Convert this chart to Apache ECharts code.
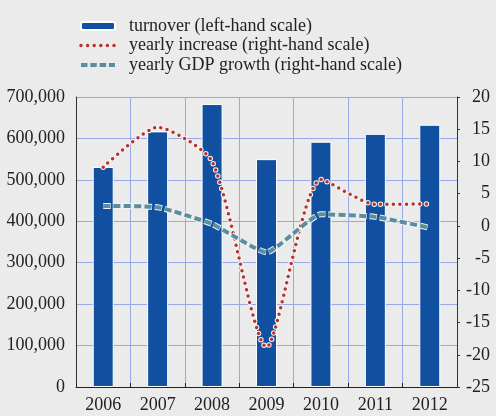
<!DOCTYPE html>
<html>
<head>
<meta charset="utf-8">
<script src="https://cdn.jsdelivr.net/npm/echarts@6/dist/echarts.min.js"></script>
<style>
  html, body { margin: 0; padding: 0; background: #ebebeb; }
  #chart { width: 496px; height: 416px; }
</style>
</head>
<body>
<div id="chart"></div>
<script>
  // categories and values
  var years = ['2006', '2007', '2008', '2009', '2010', '2011', '2012'];
  var turnover = [531000, 617000, 683000, 550000, 592000, 611000, 633000];
  var yearlyIncrease = [9.1, 15.3, 10.0, -18.8, 7.2, 3.35, 3.4];
  var gdpGrowth = [3.1, 2.9, 0.3, -4.1, 1.8, 1.4, -0.3];

  var names = ['turnover (left-hand scale)', 'yearly increase (right-hand scale)', 'yearly GDP growth (right-hand scale)'];
  var font = 'Liberation Serif';
  var gridColor = '#9aa7e6';
  var red = '#b8322c';
  var teal = '#5a8e9e';

  var chart = echarts.init(document.getElementById('chart'));
  chart.setOption({
    backgroundColor: '#ebebeb',
    animation: false,
    textStyle: { fontFamily: font },
    legend: {
      data: [
        { name: names[0] },
        { name: names[1], itemStyle: { opacity: 0 }, lineStyle: { color: red, width: 3.5, type: [0, 6.6], cap: 'round' } },
        { name: names[2], itemStyle: { opacity: 0 }, lineStyle: { color: teal, width: 4, type: [6.5, 2.8] } }
      ],
      orient: 'vertical',
      left: 74,
      top: 12,
      itemWidth: 34,
      itemHeight: 8,
      itemGap: 1.5,
      textStyle: { fontFamily: font, fontSize: 18, color: '#222', lineHeight: 18, padding: [0, 0, 0, 9] }
    },
    grid: { left: 76, right: 39, top: 97, bottom: 29 },
    xAxis: {
      type: 'category',
      data: years,
      axisLine: { lineStyle: { color: '#222', width: 1 } },
      axisTick: { show: true, inside: true, length: 4, lineStyle: { color: '#222' } },
      splitLine: { show: true, lineStyle: { color: gridColor, width: 1 } },
      axisLabel: { fontFamily: font, fontSize: 18, color: '#222', margin: 9 }
    },
    yAxis: [{
      type: 'value',
      min: 0, max: 700000, interval: 100000,
      axisLine: { show: true, lineStyle: { color: '#333' } },
      axisTick: { show: false },
      splitLine: { lineStyle: { color: gridColor, width: 1 } },
      axisLabel: {
        fontFamily: font, fontSize: 18, color: '#222', margin: 11,
        formatter: function (v) { return v.toLocaleString('en-US'); }
      }
    }, {
      type: 'value',
      min: -25, max: 20, interval: 5,
      position: 'right',
      axisLine: { show: true, lineStyle: { color: '#333' } },
      axisTick: { show: true, length: 3, lineStyle: { color: '#333' } },
      splitLine: { show: false },
      axisLabel: { fontFamily: font, fontSize: 18, color: '#222', margin: 33, align: 'right' }
    }],
    series: [{
      name: names[0],
      type: 'bar',
      data: turnover,
      barWidth: 21,
      itemStyle: { color: '#1150a0', borderColor: '#ffffff', borderWidth: 1 }
    }, {
      // white halo under the dotted line
      name: 'halo1',
      type: 'line',
      yAxisIndex: 1,
      data: yearlyIncrease,
      smooth: 0.22,
      symbol: 'none',
      silent: true,
      lineStyle: { color: '#f4f4f4', width: 5.5, type: [0, 6.5], cap: 'round' }
    }, {
      name: names[1],
      type: 'line',
      yAxisIndex: 1,
      data: yearlyIncrease,
      smooth: 0.22,
      symbol: 'none',
      itemStyle: { color: red },
      lineStyle: { color: red, width: 3.5, type: [0, 6.5], cap: 'round' }
    }, {
      name: 'halo2',
      type: 'line',
      yAxisIndex: 1,
      data: gdpGrowth,
      smooth: 0.15,
      symbol: 'none',
      silent: true,
      lineStyle: { color: '#f4f4f4', width: 6, type: [7.5, 2.8] }
    }, {
      name: names[2],
      type: 'line',
      yAxisIndex: 1,
      data: gdpGrowth,
      smooth: 0.15,
      symbol: 'none',
      itemStyle: { color: teal },
      lineStyle: { color: teal, width: 4, type: [7, 3.3] }
    }]
  });
</script>
</body>
</html>
